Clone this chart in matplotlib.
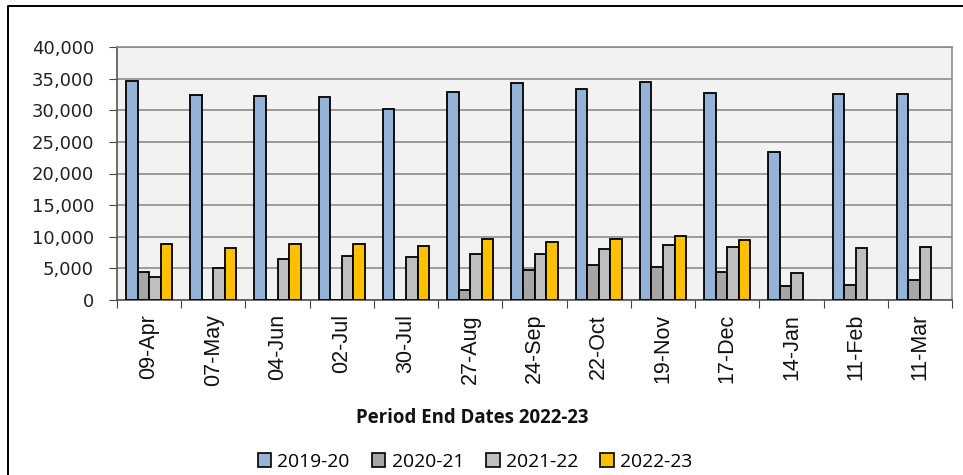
import matplotlib
matplotlib.use("Agg")
import matplotlib.pyplot as plt
import numpy as np
from matplotlib.lines import Line2D
from matplotlib.patches import Patch

categories = ["09-Apr", "07-May", "04-Jun", "02-Jul", "30-Jul", "27-Aug", "24-Sep",
              "22-Oct", "19-Nov", "17-Dec", "14-Jan", "11-Feb", "11-Mar"]
s2019_20 = [34700, 32400, 32200, 32050, 30150, 32850, 34300, 33400, 34450, 32700, 23450, 32550, 32550]
s2020_21 = [4400, 0, 0, 0, 0, 1600, 4750, 5600, 5150, 4400, 2200, 2450, 3150]
s2021_22 = [3700, 5000, 6500, 6950, 6800, 7200, 7350, 8000, 8700, 8400, 4250, 8150, 8400]
s2022_23 = [8850, 8250, 8850, 8850, 8550, 9600, 9150, 9600, 10150, 9450, np.nan, np.nan, np.nan]
series_names = ["2019-20", "2020-21", "2021-22", "2022-23"]
colors = ["#95B3D7", "#A6A6A6", "#BFBFBF", "#FFC000"]

fig = plt.figure(figsize=(9.63, 4.75), dpi=100)
ax = fig.add_axes([117/963, 1-300/475, (952-117)/963, (300-47)/475])
ax.set_facecolor("#F2F2F2")

x = np.arange(len(categories))
bw = 0.18
data = [s2019_20, s2020_21, s2021_22, s2022_23]
for i, (vals, c) in enumerate(zip(data, colors)):
    ax.bar(x + (i - 1.5) * bw, vals, width=bw, color=c, edgecolor="black",
           linewidth=1.3, zorder=3)

ax.set_xlim(-0.5, len(categories) - 0.5)
ax.set_ylim(0, 40000)
ax.set_yticks(np.arange(0, 40001, 5000))
ax.set_yticklabels([f"{v:,}" for v in range(0, 40001, 5000)],
                   fontsize=13, family="DejaVu Sans", color="#222222")
ax.yaxis.grid(True, color="#8C8C8C", linewidth=1.2, zorder=0)
ax.set_axisbelow(True)

ax.set_xticks(np.arange(-0.5, len(categories), 1.0))
ax.set_xticklabels([])
ax.set_xticks(x, minor=True)
ax.set_xticklabels(categories, minor=True, rotation=90, fontsize=15.5,
                   family="Liberation Sans", color="#111111")
ax.tick_params(axis="x", which="minor", length=0, pad=10)
ax.tick_params(axis="x", which="major", length=6, direction="out", color="#444444")
ax.tick_params(axis="y", length=5.8, direction="out", color="#444444", pad=10.8)

for s in ["left", "bottom"]:
    ax.spines[s].set_color("#555555")
    ax.spines[s].set_linewidth(1.2)
for s in ["top", "right"]:
    ax.spines[s].set_color("#8C8C8C")
    ax.spines[s].set_linewidth(1.2)

fig.text(0.49, 1 - 418/475, "Period End Dates 2022-23", ha="center", va="center",
         fontsize=13.4, fontweight="bold", family="Open Sans", color="#111111")

handles = [Patch(facecolor=c, edgecolor="black", linewidth=1.2) for c in colors]
fig.legend(handles, series_names, loc="center", bbox_to_anchor=(475/963, 1 - 462/475),
           ncol=4, frameon=False, prop={"family": "Open Sans", "size": 13.9},
           handlelength=0.7, handleheight=0.7, handletextpad=0.32, columnspacing=1.15,
           borderpad=0, borderaxespad=0)

fig.add_artist(Line2D([8/963, 8/963, 1.0], [0.0, 1 - 6/475, 1 - 6/475],
                      transform=fig.transFigure, color="black", linewidth=1.4))

fig.savefig("out.png", dpi=100)
